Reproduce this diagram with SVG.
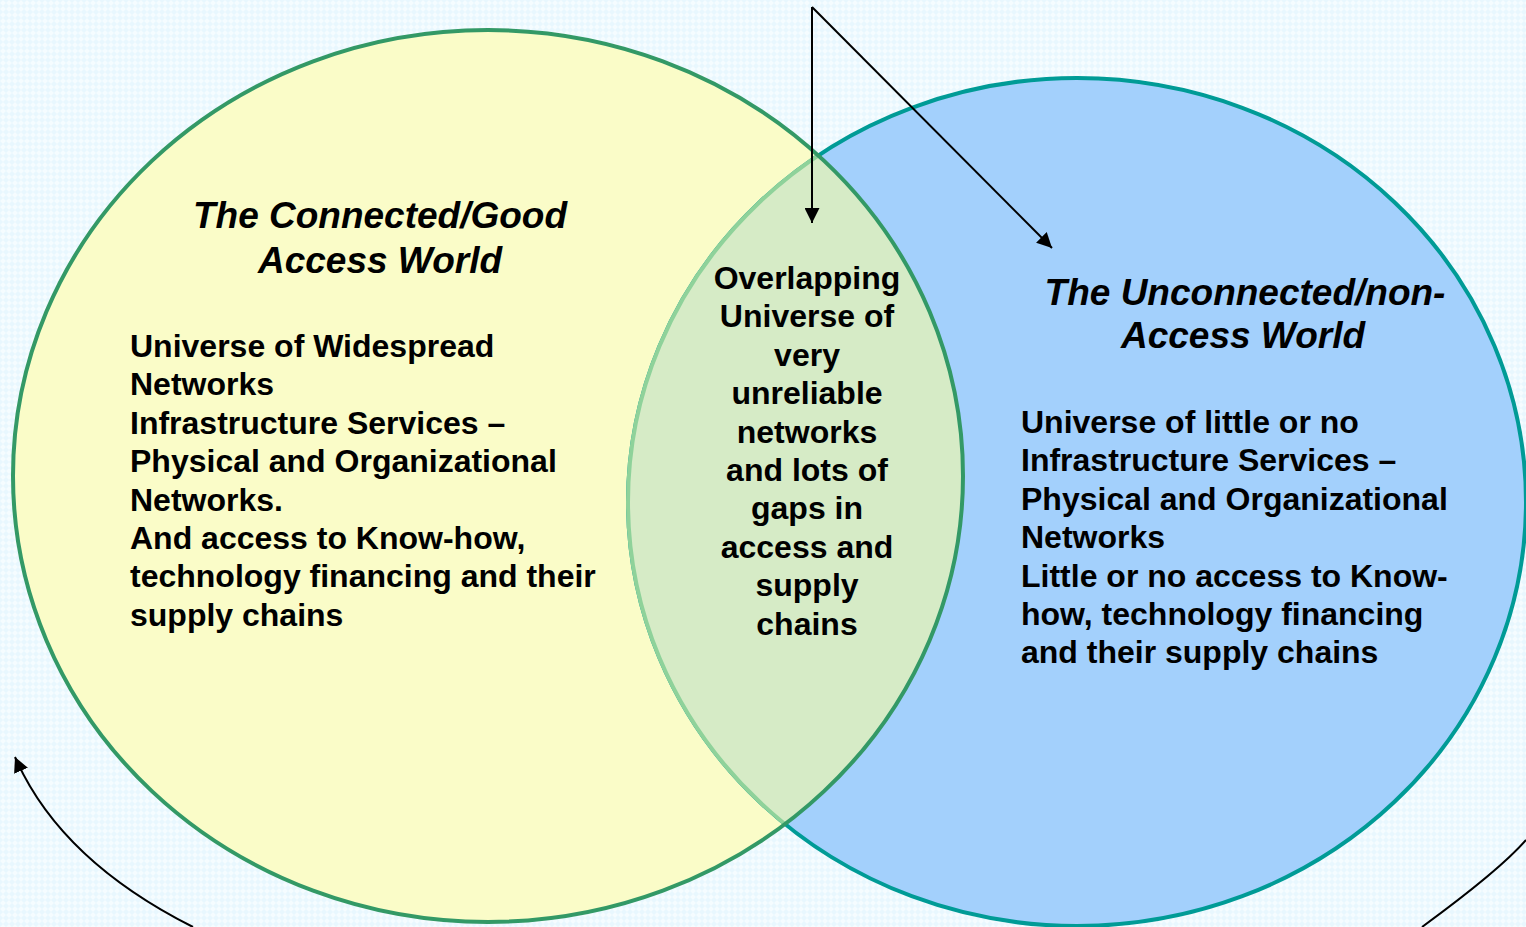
<svg xmlns="http://www.w3.org/2000/svg" width="1526" height="927" viewBox="0 0 1526 927">
<style>
.body{font-family:"Liberation Sans",Arial,sans-serif;font-weight:bold;font-size:32px;fill:#000}
.title{font-family:"Liberation Sans",Arial,sans-serif;font-weight:bold;font-style:italic;font-size:37px;fill:#000}
.mid{text-anchor:middle}
.conn{fill:none;stroke:#000;stroke-width:2}
</style>
<defs>
<pattern id="bgpat" width="6" height="6" patternUnits="userSpaceOnUse">
<rect width="6" height="6" fill="#e8f7fe"/>
<path d="M0,3 L3,0 L6,3 L3,6 Z" fill="#f5fcff"/>
</pattern>
<clipPath id="leftClip"><ellipse cx="488" cy="476" rx="475" ry="446"/></clipPath>
<marker id="arrow" viewBox="0 0 10 10" refX="10" refY="5" markerWidth="7.5" markerHeight="7.5" orient="auto" markerUnits="strokeWidth">
<path d="M0,0 L10,5 L0,10 Z" fill="#000"/>
</marker>
</defs>
<rect width="1526" height="927" fill="url(#bgpat)"/>
<g id="connected-world">
<ellipse cx="488" cy="476" rx="475" ry="446" fill="#fafcc8"/>
</g>
<g id="unconnected-world">
<ellipse cx="1077" cy="502" rx="449" ry="424" fill="#a3d0fc" stroke="#009b96" stroke-width="4"/>
</g>
<g id="overlap">
<ellipse cx="1077" cy="502" rx="449" ry="424" fill="#d6ebc6" stroke="#8fd29a" stroke-width="4" clip-path="url(#leftClip)"/>
<ellipse cx="488" cy="476" rx="475" ry="446" fill="none" stroke="#339966" stroke-width="4"/>
</g>
<g id="connected-text">
<text class="title mid" x="380" y="228">The Connected/Good</text>
<text class="title mid" x="380" y="273">Access World</text>
<text class="body" x="130" y="357">Universe of Widespread</text>
<text class="body" x="130" y="395.4">Networks</text>
<text class="body" x="130" y="433.8">Infrastructure Services –</text>
<text class="body" x="130" y="472.2">Physical and Organizational</text>
<text class="body" x="130" y="510.6">Networks.</text>
<text class="body" x="130" y="549">And access to Know-how,</text>
<text class="body" x="130" y="587.4">technology financing and their</text>
<text class="body" x="130" y="625.8">supply chains</text>
</g>
<g id="overlap-text">
<text class="body mid" x="807" y="289">Overlapping</text>
<text class="body mid" x="807" y="327.4">Universe of</text>
<text class="body mid" x="807" y="365.8">very</text>
<text class="body mid" x="807" y="404.2">unreliable</text>
<text class="body mid" x="807" y="442.6">networks</text>
<text class="body mid" x="807" y="481">and lots of</text>
<text class="body mid" x="807" y="519.4">gaps in</text>
<text class="body mid" x="807" y="557.8">access and</text>
<text class="body mid" x="807" y="596.2">supply</text>
<text class="body mid" x="807" y="634.6">chains</text>
</g>
<g id="unconnected-text">
<text class="title mid" x="1245" y="305">The Unconnected/non-</text>
<text class="title mid" x="1243" y="348">Access World</text>
<text class="body" x="1021" y="433">Universe of little or no</text>
<text class="body" x="1021" y="471.4">Infrastructure Services –</text>
<text class="body" x="1021" y="509.8">Physical and Organizational</text>
<text class="body" x="1021" y="548.2">Networks</text>
<text class="body" x="1021" y="586.6">Little or no access to Know-</text>
<text class="body" x="1021" y="625">how, technology financing</text>
<text class="body" x="1021" y="663.4">and their supply chains</text>
</g>
<g id="connectors">
<path class="conn" d="M812,7 L812,223" marker-end="url(#arrow)"/>
<path class="conn" d="M812,7 L1052,248" marker-end="url(#arrow)"/>
<path class="conn" d="M193,927 Q60,860 15,757" marker-end="url(#arrow)"/>
<path class="conn" d="M1422,927 Q1500,870 1526,840"/>
</g>
</svg>
